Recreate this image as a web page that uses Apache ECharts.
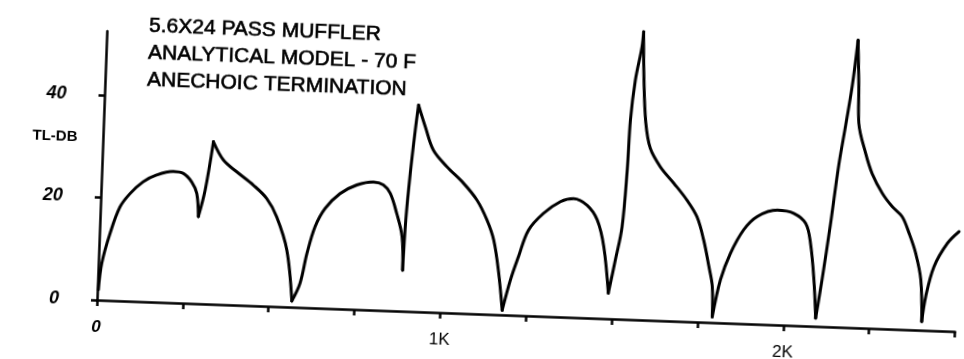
<!DOCTYPE html>
<html>
<head>
<meta charset="utf-8">
<script src="https://cdn.jsdelivr.net/npm/echarts@6/dist/echarts.min.js"></script>
<style>
  html, body { margin: 0; padding: 0; background: #fff; overflow: hidden; width: 964px; height: 359px; }
  #chart { position: absolute; left: 0; top: 0; width: 1000px; height: 400px;
           transform: rotate(2.1deg); transform-origin: 97px 300px; }
</style>
</head>
<body>
<div id="chart"></div>
<script>
// Frequency (Hz) and transmission loss (dB)
const freqHz = [3,10,31,57,85,122,160,208,238,263,279,286,303,322,353,393,443,483,514,547,567,
  589,606,627,654,696,744,792,821,842,863,881,886,890,898,908,915,937,963,1004,1054,1095,1126,1148,1166,1180,
  1201,1222,1248,1290,1338,1376,1416,1447,1469,1487,1504,1520,1529,1533,1543,1559,1562,1568,1578,1594,1625,1666,1706,1737,1759,1777,1789,1792,
  1812,1838,1874,1912,1970,2018,2054,2070,2084,2093,2108,2126,2144,2160,2175,2187,2194,2198,2221,2242,2274,2304,2334,2356,2377,2395,2402,
  2411,2432,2468,2501];
const tlDb = [2,7.2,13.1,18.3,21.0,23.4,24.8,25.6,25.3,23.7,21.5,17.0,22.2,31.7,28.2,26.0,23.5,21.0,17.5,11.1,1.2,
  4.7,10.6,15.9,19.5,22.5,24.3,25.0,24.5,22.9,19.0,14.5,8.0,17.8,26.9,35.4,40.3,36.1,31.6,28.5,25.4,22.2,18.4,14.5,8.1,0.9,
  6.9,11.5,16.7,20.1,22.5,23.2,22.0,19.2,14.0,5.0,11.5,18.0,29.1,38.9,46.7,53.3,56.2,47.0,38.5,33.5,30.0,26.9,23.7,20.5,16.0,10.9,7.0,1.1,
  8.4,13.6,18.3,21.0,22.4,21.9,20.0,16.2,9.0,1.6,9.4,19.9,31.6,39.5,47.3,56.1,47.0,39.9,34.1,30.2,26.4,23.9,22.0,18.8,15.0,9.8,1.7,
  6.6,12.5,17.1,19.5];
// Sharp corners of the curve (dips and peaks), in Hz
const cuspHz = [286,322,567,886,915,1180,1487,1562,1792,2093,2187,2402];
const xTicks = [0,250,500,750,1000,1250,1500,1750,2000,2250,2500];
const xLabelValues = [0,1000,2000];
const xLabelText = ['0','1K','2K'];
const yTicks = [0,20,40];
const titleLines = ['5.6X24 PASS MUFFLER','ANALYTICAL MODEL - 70 F','ANECHOIC TERMINATION'];
const yName = 'TL-DB';

// split the curve at its corners so each smooth arc keeps sharp cusps
const segments = [];
let cur = [];
freqHz.forEach((f, i) => {
  cur.push([f, tlDb[i]]);
  if (cuspHz.includes(f)) { segments.push(cur); cur = [[f, tlDb[i]]]; }
});
if (cur.length > 1) segments.push(cur);

const chart = echarts.init(document.getElementById('chart'), null, {renderer: 'canvas'});
const FONT = '"Liberation Sans", Arial, sans-serif';
const titleGraphics = titleLines.map((t, i) => ({
  type: 'text', x: 139, y: 24 + i * 27,
  style: { text: t, align: 'left', verticalAlign: 'middle',
           font: '21px "Liberation Sans", Arial, sans-serif', fill: '#000',
           stroke: '#000', lineWidth: 0.6 }
}));
chart.setOption({
  backgroundColor: '#fff',
  animation: false,
  graphic: titleGraphics.concat([{
    type: 'text', x: 49, y: 138,
    style: { text: yName, align: 'center', verticalAlign: 'middle',
             font: 'bold 15px "Liberation Sans", Arial, sans-serif', fill: '#000' }
  }]),
  grid: { left: 97, top: 31, width: 858.6, height: 269 },
  xAxis: {
    type: 'value', min: 0, max: 2500,
    axisLine: { show: true, lineStyle: { color: '#000', width: 2.5 } },
    axisTick: { show: true, customValues: xTicks, length: 6, lineStyle: { color: '#000', width: 2.5 } },
    splitLine: { show: false },
    axisLabel: {
      customValues: xLabelValues, margin: 19, color: '#000', fontFamily: FONT, fontSize: 17,
      formatter: v => { const i = xLabelValues.indexOf(v); if (i === 0) return '{b|0}'; return i >= 0 ? xLabelText[i] : ''; },
      rich: { b: { fontWeight: 'bold', fontStyle: 'italic', fontSize: 17, fontFamily: FONT } }
    }
  },
  yAxis: {
    type: 'value', min: 0, max: 52.5,
    axisLine: { show: true, lineStyle: { color: '#000', width: 2.5 } },
    axisTick: { show: true, customValues: yTicks, length: 6, lineStyle: { color: '#000', width: 2.5 } },
    splitLine: { show: false },
    axisLabel: {
      customValues: yTicks, margin: 38, color: '#000', fontFamily: FONT, fontSize: 18,
      fontWeight: 'bold', fontStyle: 'italic'
    }
  },
  series: segments.map(seg => ({
    type: 'line',
    data: seg,
    showSymbol: false, symbol: 'none', clip: false, smooth: 0.35,
    lineStyle: { color: '#000', width: 3, join: 'round', cap: 'round' }
  }))
});
</script>
</body>
</html>
